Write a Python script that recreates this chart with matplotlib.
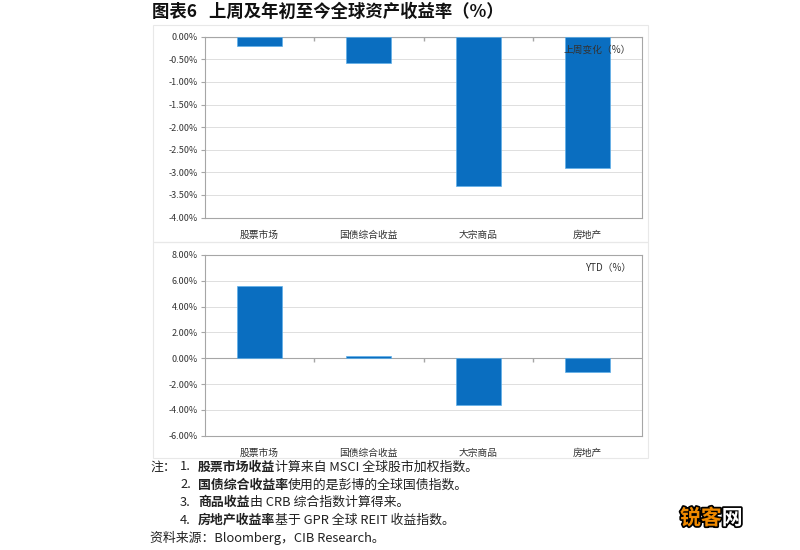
import numpy as np
import matplotlib
matplotlib.use('Agg')
import matplotlib.pyplot as plt
from matplotlib.ticker import FuncFormatter, MultipleLocator
from matplotlib.patches import Rectangle
import matplotlib.patheffects as pe

plt.rcParams['font.family'] = ['Noto Sans CJK SC', 'DejaVu Sans']

# data
categories = ['股票市场', '国债综合收益', '大宗商品', '房地产']
week_change = [-0.20, -0.59, -3.31, -2.91]
ytd_change = [5.58, 0.15, -3.59, -1.08]

title = '图表6   上周及年初至今全球资产收益率（%）'
notes = [
    ('注：', '1.', [('股票市场收益', 'bold'), ('计算来自 MSCI 全球股市加权指数。', 'normal')]),
    ('', '2.', [('国债综合收益率', 'bold'), ('使用的是彭博的全球国债指数。', 'normal')]),
    ('', '3.', [('商品收益', 'bold'), ('由 CRB 综合指数计算得来。', 'normal')]),
    ('', '4.', [('房地产收益率', 'bold'), ('基于 GPR 全球 REIT 收益指数。', 'normal')]),
]
source = '资料来源：Bloomberg，CIB Research。'

W, H = 800, 550
BLUE = '#0A6EC0'
GRID = '#d9d9d9'
SPINE = '#a6a6a6'
TXT = '#222222'

fig = plt.figure(figsize=(8, 5.5), dpi=100)


def fx(px):
    return px / W


def fy(py):
    return 1 - py / H


def panel(top, bottom, values, ylim, step, label):
    ax = fig.add_axes([fx(205), fy(bottom), fx(642) - fx(205), fy(top) - fy(bottom)])
    x = np.arange(len(categories))
    ax.bar(x, values, width=0.41, color=BLUE, edgecolor='#5fb0ea', linewidth=0.5, zorder=3)
    ax.set_xlim(-0.5, len(categories) - 0.5)
    ax.set_ylim(*ylim)
    ax.yaxis.set_major_locator(MultipleLocator(step))
    ax.yaxis.set_major_formatter(FuncFormatter(lambda v, p: f'{v:.2f}%'))
    ax.grid(axis='y', color=GRID, linewidth=0.6, zorder=0)
    ax.set_xticks(x)
    ax.set_xticklabels(categories, fontsize=7, color='#333333')
    ax.tick_params(axis='x', length=0, pad=9)
    ax.tick_params(axis='y', labelsize=6.5, length=3, color=SPINE, labelcolor='#333333', pad=2)
    for s in ax.spines.values():
        s.set_color(SPINE)
        s.set_linewidth(0.8)
    # zero line with small ticks between categories
    ax.axhline(0, color=SPINE, linewidth=0.8, zorder=2)
    ax.plot(x[:-1] + 0.5, np.zeros(len(x) - 1), ls='none', marker=3,
            markersize=3, color=SPINE, zorder=2)
    ax.text(0.975, ylim[1] - (ylim[1] - ylim[0]) * 0.075, label,
            transform=ax.get_yaxis_transform(), ha='right', va='center',
            fontsize=7, color='#333333', zorder=5)
    return ax


panel(36.7, 217.5, week_change, (-4, 0), 0.5, '上周变化（%）')
panel(255, 435.7, ytd_change, (-6, 8), 2, 'YTD（%）')

# faint frames around the two chart panels
for t, b in [(25, 242), (242, 458)]:
    fig.patches.append(Rectangle((fx(153), fy(b)), fx(648) - fx(153), fy(t) - fy(b),
                                 transform=fig.transFigure, fill=False,
                                 edgecolor='#e8e8e8', linewidth=0.8))

fig.text(fx(152), fy(12), title, fontsize=12.5, weight='bold', va='center', color='#111111')

renderer = fig.canvas.get_renderer()


def runs(x, y, parts, **kw):
    # place text pieces one after another on the same line
    for s, w in parts:
        t = fig.text(x, y, s, weight=w, va='center', **kw)
        x += t.get_window_extent(renderer).width / W
    return x


ys = [467, 485, 502, 520]
for (lead, num, parts), yy in zip(notes, ys):
    if lead:
        fig.text(fx(150), fy(yy), lead, fontsize=9.3, va='center', color=TXT)
    fig.text(fx(180), fy(yy), num, fontsize=9.3, va='center', color=TXT)
    runs(fx(198), fy(yy), parts, fontsize=9.3, color=TXT)

fig.text(fx(150), fy(538), source, fontsize=9.3, va='center', color=TXT)

# watermark
stroke = [pe.withStroke(linewidth=2.5, foreground='black')]
wx = runs(fx(680), fy(518), [('锐客', 'bold')], fontsize=15, color='#f08a00', path_effects=stroke)
fig.text(wx, fy(518), '网', fontsize=15, weight='bold', va='center', color='white', path_effects=stroke)

fig.savefig('out.png', dpi=100)
